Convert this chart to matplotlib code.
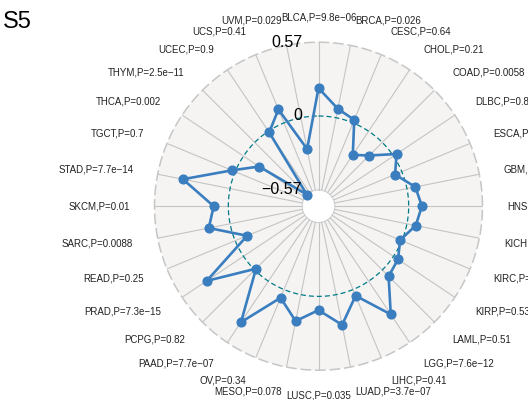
import numpy as np
import matplotlib
matplotlib.use("Agg")
import matplotlib.pyplot as plt
from matplotlib.transforms import offset_copy

plt.rcParams['font.family'] = ['Liberation Sans', 'DejaVu Sans']

cancers = ["BLCA", "BRCA", "CESC", "CHOL", "COAD", "DLBC", "ESCA", "GBM",
           "HNSC", "KICH", "KIRC", "KIRP", "LAML", "LGG", "LIHC", "LUAD",
           "LUSC", "MESO", "OV", "PAAD", "PCPG", "PRAD", "READ", "SARC",
           "SKCM", "STAD", "TGCT", "THCA", "THYM", "UCEC", "UCS", "UVM"]
values = [0.216, 0.070, 0.025, -0.220, -0.143, 0.029, -0.057, 0.066,
          0.102, 0.069, -0.014, 0.042, 0.069, 0.308, 0.052, 0.238,
          0.106, 0.208, 0.069, 0.381, -0.014, 0.342, -0.100, 0.167,
          0.113, 0.371, 0.027, -0.145, -0.570, -0.011, 0.112, -0.247]
pvalues = ["9.8e\u221206", "0.026", "0.64", "0.21", "0.0058", "0.8", "0.47", "0.32",
           "0.12", "0.61", "0.83", "0.53", "0.51", "7.6e\u221212", "0.41", "3.7e\u221207",
           "0.035", "0.078", "0.34", "7.7e\u221207", "0.82", "7.3e\u221215", "0.25", "0.0088",
           "0.01", "7.7e\u221214", "0.7", "0.002", "2.5e\u221211", "0.9", "0.41", "0.029"]
grid_min, grid_mid, grid_max = -0.57, 0.0, 0.57
grid_labels = ["\u22120.57", "0", "0.57"]
title = "S5"

centre = grid_min - (grid_max - grid_min) / 9.0
span = grid_max - centre

fig = plt.figure(figsize=(5.28, 4.0), dpi=100)
R = 164
cx, cy = 318.5, 400 - 206.2
ax = fig.add_axes([(cx - R) / 528, (cy - R) / 400, 2 * R / 528, 2 * R / 400],
                  projection='polar')
ax.set_theta_zero_location('N')
ax.set_theta_direction(-1)
ax.set_ylim(centre, grid_max)
ax.set_facecolor('#F5F4F3')
ax.grid(False)
ax.set_xticks([])
ax.set_yticks([])
ax.spines['polar'].set_visible(False)

n = len(cancers)
theta = np.arange(n) * 2 * np.pi / n
circ = np.linspace(0, 2 * np.pi, 361)

# inner white disk
ax.fill(circ, np.full_like(circ, grid_min), color='white', zorder=1)
ax.plot(circ, np.full_like(circ, grid_min), color='#D0D0D0', lw=0.8, zorder=2)

# radial axis lines
for t in theta:
    ax.plot([t, t], [grid_min, grid_max], color='#C4C4C4', lw=0.8, zorder=2)

# outer dashed circle
ax.plot(circ, np.full_like(circ, grid_max), color='#C6C6C6', lw=1.1,
        dashes=(7, 2.5), zorder=3, clip_on=False)
# mid dashed circle
ax.plot(circ, np.full_like(circ, grid_mid), color='#007A87', lw=0.9,
        dashes=(4, 2.4), zorder=3)

# data polygon
tv = np.append(theta, theta[0])
vv = np.append(values, values[0])
ax.plot(tv, vv, color='#3A7EBF', lw=1.9, zorder=5)
ax.plot(theta, values, 'o', color='#3A7EBF', ms=6.3, zorder=6)

# axis labels
lab_r = centre + 1.152 * span
for t, c, p in zip(theta, cancers, pvalues):
    if np.isclose(t, 0) or np.isclose(t, np.pi):
        ha = 'center'
    elif t < np.pi:
        ha = 'left'
    else:
        ha = 'right'
    ax.text(t, lab_r, f"{c},P={p}", ha=ha, va='center', fontsize=7,
            color='#222222', clip_on=False, zorder=7)

# grid labels
tr = offset_copy(ax.transData, fig=fig, x=-16.4, y=0, units='dots')
for v, s in zip([grid_min, grid_mid, grid_max], grid_labels):
    ax.text(0, v, s, transform=tr, ha='right', va='center', fontsize=11.5,
            color='black', clip_on=False, zorder=8)

fig.text(3.3 / 528, 1 - 28.3 / 400, title, ha='left', va='baseline', fontsize=17)

fig.savefig('out.png', dpi=100)
